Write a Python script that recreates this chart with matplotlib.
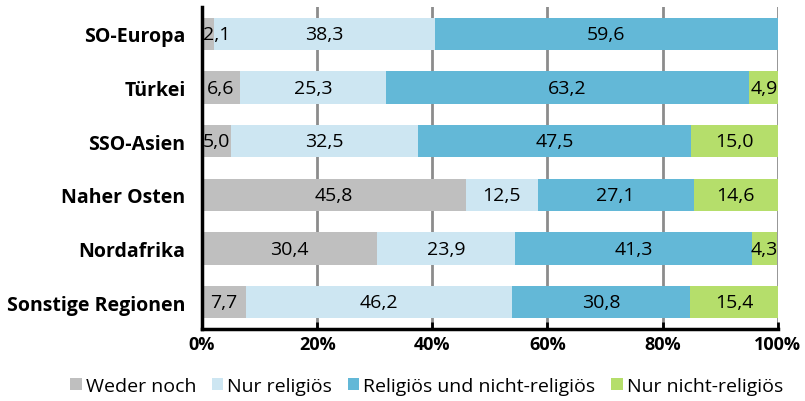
import numpy as np
import matplotlib.pyplot as plt

plt.rcParams['font.family'] = ['Open Sans', 'DejaVu Sans']

regions = ['SO-Europa', 'Türkei', 'SSO-Asien', 'Naher Osten', 'Nordafrika', 'Sonstige Regionen']
series = ['Weder noch', 'Nur religiös', 'Religiös und nicht-religiös', 'Nur nicht-religiös']
weder_noch = [2.1, 6.6, 5.0, 45.8, 30.4, 7.7]
nur_religioes = [38.3, 25.3, 32.5, 12.5, 23.9, 46.2]
beides = [59.6, 63.2, 47.5, 27.1, 41.3, 30.8]
nur_nicht_religioes = [0.0, 4.9, 15.0, 14.6, 4.3, 15.4]
colors = ['#bfbfbf', '#cde6f2', '#63b8d7', '#b5de6b']

values = [weder_noch, nur_religioes, beides, nur_nicht_religioes]

fig = plt.figure(figsize=(8.05, 4.02), dpi=100)
ax = fig.add_axes([0.251, 0.179, 0.715, 0.801])

y = np.arange(len(regions))
left = np.zeros(len(regions))
for name, vals, c in zip(series, values, colors):
    vals = np.array(vals)
    ax.barh(y, vals, left=left, height=0.6, color=c, label=name, zorder=2)
    for yi, l, v in zip(y, left, vals):
        if v <= 0:
            continue
        txt = f'{v:.1f}'.replace('.', ',')
        # narrow segments at the edges: keep the label inside the plot
        if v < 6 and l == 0:
            x, ha = 0.2, 'left'
        elif v < 6 and l + v > 99.9:
            x, ha = 100, 'right'
        else:
            x, ha = l + v / 2, 'center'
        ax.text(x, yi, txt, ha=ha, va='center', fontsize=14, zorder=3)
    left += vals

ax.set_xlim(0, 100)
ax.set_ylim(len(regions) - 0.5, -0.5)
ax.set_yticks(y)
ax.set_yticklabels(regions, fontsize=14, fontweight='bold')
ax.set_xticks(np.arange(0, 101, 20))
ax.set_xticklabels([f'{t}%' for t in range(0, 101, 20)], fontsize=13, fontweight='bold')
ax.tick_params(axis='y', length=0, pad=12)
ax.tick_params(axis='x', length=5, width=2, direction='in', pad=4)

ax.grid(axis='x', color='#8c8c8c', linewidth=2, zorder=1)
for s in ['top', 'right']:
    ax.spines[s].set_visible(False)
for s in ['left', 'bottom']:
    ax.spines[s].set_linewidth(2.5)
    ax.spines[s].set_zorder(4)

ax.legend(loc='upper center', bbox_to_anchor=(0.39, -0.125), ncol=4, frameon=False,
          fontsize=14, handlelength=0.6, handleheight=0.6, handletextpad=0.2,
          columnspacing=0.8, borderaxespad=0)

fig.savefig('out.png', dpi=100)
